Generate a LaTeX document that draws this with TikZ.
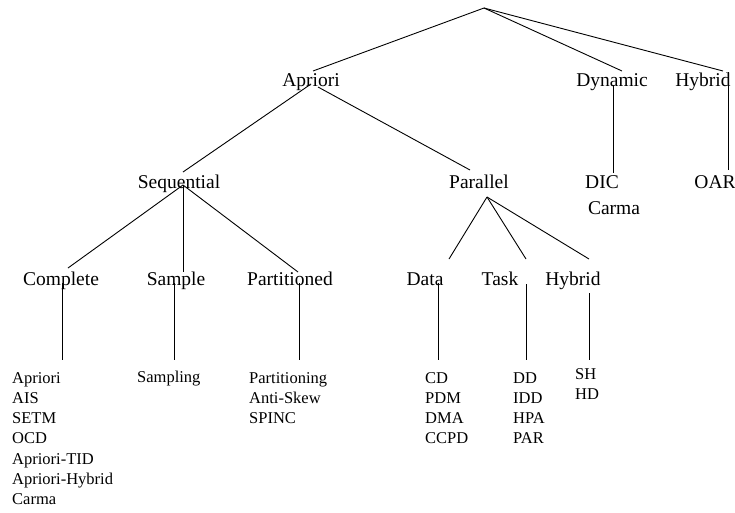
\documentclass[tikz,border=0pt]{standalone}
\usepackage{fontspec}
\setmainfont{Liberation Serif}
\usetikzlibrary{calc}
\begin{document}
\begin{tikzpicture}[x=1pt,y=1pt,
  lbl/.style={anchor=base,inner sep=0pt,font=\fontsize{19.5}{22}\selectfont},
  lst/.style={anchor=base west,inner sep=0pt,align=left,font=\fontsize{16.5}{20.3}\selectfont},
  edge/.style={draw=black,line width=0.9pt}]
\useasboundingbox (0,0) rectangle (735,-512);
\coordinate (root) at (484,-8);
\node[lbl] (apriori) at (311,-86) {Apriori};
\node[lbl] (dynamic) at (612,-86) {Dynamic};
\node[lbl] (hybridA) at (703,-86) {Hybrid};
\node[lbl] (parallel) at (479,-188) {Parallel};
\node[lbl] (dic) at (602,-188) {DIC};
\node[lbl] (oar) at (715,-188) {OAR};
\node[lbl] (carma) at (614,-214) {Carma};
\node[lbl] (seq) at (179,-188) {Sequential};
\node[lbl] (complete) at (61,-285) {Complete};
\node[lbl] (sample) at (176,-285) {Sample};
\node[lbl] (partd) at (290,-285) {Partitioned};
\node[lbl] (data) at (425,-285) {Data};
\node[lbl] (task) at (500,-285) {Task};
\node[lbl] (hybridB) at (573,-285) {Hybrid};
% lists: base west = baseline of the last line
\node[lst] (lcomp) at (12,-504.8) {Apriori\\AIS\\SETM\\OCD\\Apriori-TID\\Apriori-Hybrid\\Carma};
\node[lst] (lsamp) at (137,-382) {Sampling};
\node[lst] (lpart) at (249,-423.6) {Partitioning\\Anti-Skew\\SPINC};
\node[lst] (ldata) at (425,-443.9) {CD\\PDM\\DMA\\CCPD};
\node[lst] (ltask) at (513,-443.9) {DD\\IDD\\HPA\\PAR};
\node[lst] (lhyb) at (575,-399.3) {SH\\HD};
% top level
\draw[edge] (root) -- ($(apriori.base)+(2,15)$);
\draw[edge] (root) -- ($(dynamic.base)+(10,15)$);
\draw[edge] (root) -- ($(hybridA.base)+(20,15)$);
\draw[edge] ($(hybridA.base)+(25,14)$) -- ($(oar.base)+(13,18)$);
\draw[edge] ($(dynamic.base)+(1,1)$) -- ($(dic.base)+(11,15)$);
% apriori
\draw[edge] ($(apriori.base)+(0,2)$) -- ($(seq.base)+(4,16)$);
\draw[edge] ($(apriori.base)+(7,-1)$) -- ($(parallel.base)+(-9,18)$);
% sequential
\draw[edge] ($(seq.base)+(4,3)$) -- ($(complete.base)+(7,17)$);
\draw[edge] ($(seq.base)+(4,3)$) -- ($(sample.base)+(7,13)$);
\draw[edge] ($(seq.base)+(4,3)$) -- ($(partd.base)+(8,13)$);
\draw[edge] ($(complete.base)+(1,2)$) -- ($(lcomp.base west)+(50,144.8)$);
\draw[edge] ($(sample.base)+(-2,2)$) -- ($(lsamp.base west)+(37,22)$);
\draw[edge] ($(partd.base)+(9,2)$) -- ($(lpart.base west)+(50,63.6)$);
% parallel
\draw[edge] ($(parallel.base)+(8,-9)$) -- ($(data.base)+(24,26)$);
\draw[edge] ($(parallel.base)+(8,-9)$) -- ($(task.base)+(26,26)$);
\draw[edge] ($(parallel.base)+(8,-9)$) -- ($(hybridB.base)+(16,26)$);
\draw[edge] ($(data.base)+(13,2)$) -- ($(ldata.base west)+(13,83.9)$);
\draw[edge] ($(task.base)+(26,1)$) -- ($(ltask.base west)+(13,83.9)$);
\draw[edge] ($(hybridB.base)+(16,-8)$) -- ($(lhyb.base west)+(14,39.3)$);
\end{tikzpicture}
\end{document}
